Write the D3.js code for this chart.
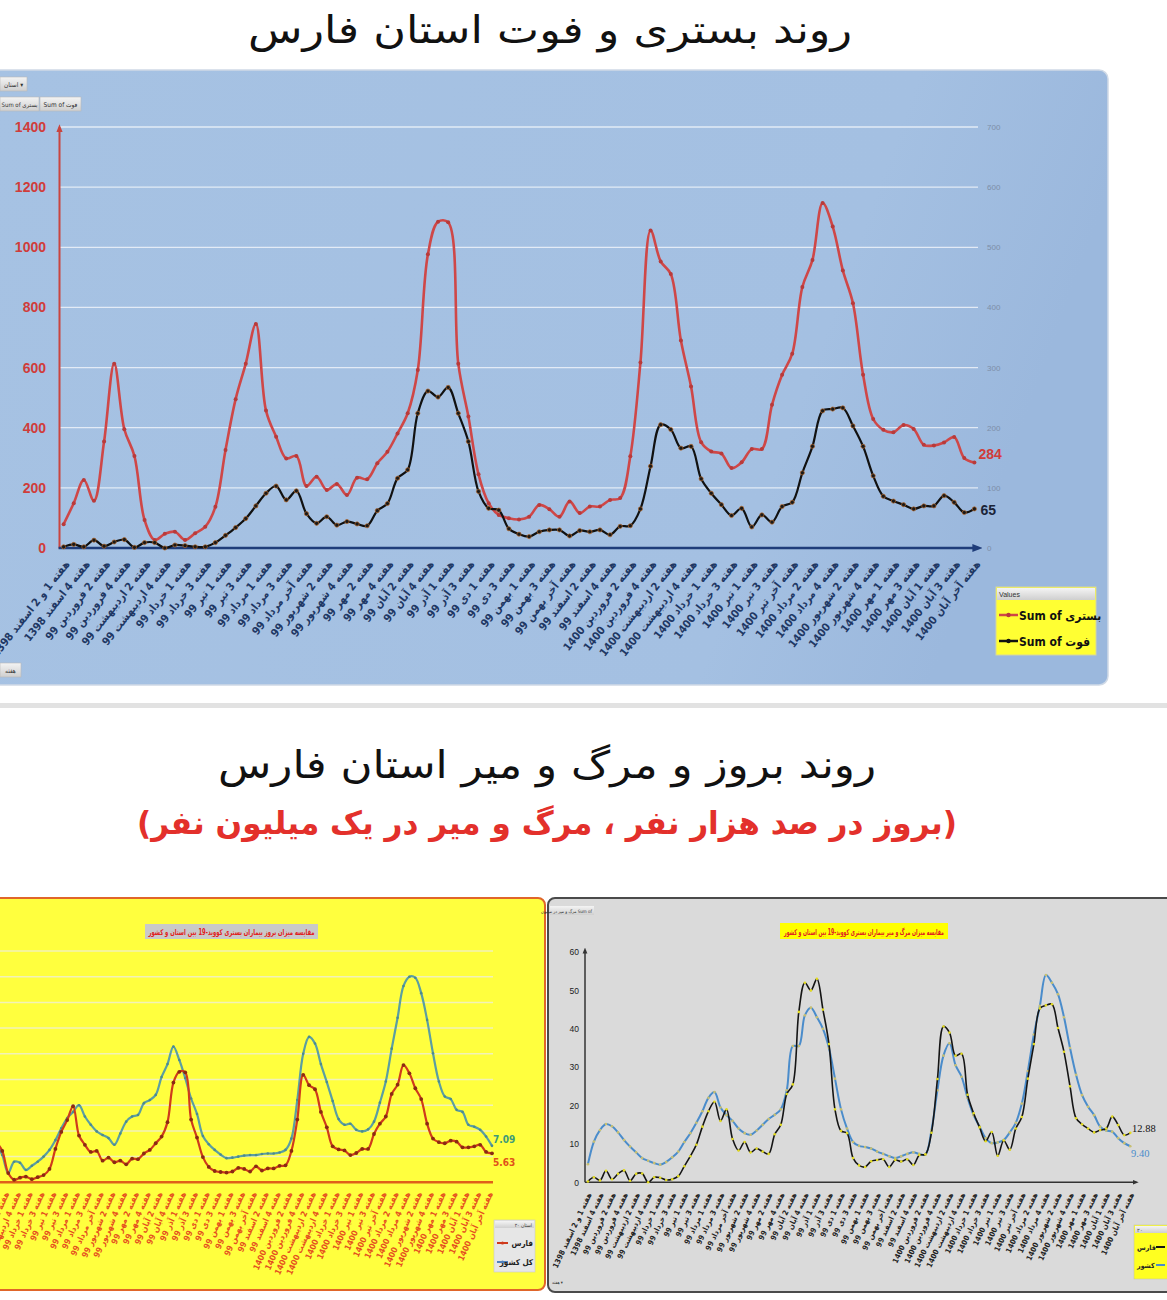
<!DOCTYPE html>
<html><head><meta charset="utf-8">
<script src="https://cdn.jsdelivr.net/npm/d3@7"></script>
<style>
body{margin:0;background:#fff;}
svg{display:block;}
</style></head><body>
<svg id="c" width="1167" height="1300"></svg>
<script>
// ---------------- DATA ----------------
const tickLabels = [
"هفته 1 و 2 اسفند 1398","هفته 4 اسفند 1398","هفته 2 فروردین 99","هفته 4 فروردین 99",
"هفته 2 اردیبهشت 99","هفته 4 اردیبهشت 99","هفته 1 خرداد 99","هفته 3 خرداد 99",
"هفته 1 تیر 99","هفته 3 تیر 99","هفته 1 مرداد 99","هفته 3 مرداد 99","هفته آخر مرداد 99",
"هفته 2 شهریور 99","هفته 4 شهریور 99","هفته 2 مهر 99","هفته 4 مهر 99","هفته 2 آبان 99",
"هفته 4 آبان 99","هفته 1 آذر 99","هفته 3 آذر 99","هفته 1 دی 99","هفته 3 دی 99",
"هفته 1 بهمن 99","هفته 3 بهمن 99","هفته آخر بهمن 99","هفته 2 اسفند 99","هفته 4 اسفند 99",
"هفته 2 فروردین 1400","هفته 4 فروردین 1400","هفته 2 اردیبهشت 1400","هفته 4 اردیبهشت 1400",
"هفته 1 خرداد 1400","هفته 3 خرداد 1400","هفته 1 تیر 1400","هفته 3 تیر 1400","هفته آخر تیر 1400",
"هفته 2 مرداد 1400","هفته 4 مرداد 1400","هفته 2 شهریور 1400","هفته 4 شهریور 1400",
"هفته 1 مهر 1400","هفته 3 مهر 1400","هفته 1 آبان 1400","هفته 3 آبان 1400","هفته آخر آبان 1400"
];

// Top chart: weekly hospitalized (left axis) and deaths (right axis), Fars
const hospitalized = [
79,149,226,157,354,613,395,306,93,27,
47,54,27,49,71,137,326,495,613,745,
457,370,298,306,206,237,193,213,176,234,
229,282,320,381,448,592,977,1085,1083,613,
437,245,149,110,99,95,104,143,129,104,
155,116,138,138,160,166,305,617,1056,953,
911,690,537,352,321,314,266,285,329,329,
476,576,646,868,958,1147,1069,923,814,576,
429,393,385,409,396,343,341,351,369,299,284];
const deaths = [
2,6,2,13,3,10,14,1,9,9,
0,5,4,2,2,9,21,34,49,70,
91,103,80,95,57,41,52,38,44,40,
37,62,74,116,130,224,261,251,267,224,
177,94,66,63,32,23,19,27,30,30,
20,29,27,30,22,36,37,65,136,205,
197,166,169,115,91,72,54,66,35,55,
43,69,76,125,169,228,231,233,203,169,
120,86,78,72,65,70,70,87,76,59,65];

// Bottom-left: incidence per 100k (visible part starts at week index 6)
const incStart = 6;
const incFars = [
7.8,6.1,1.8,0.5,0.9,1.1,0.6,1.0,1.4,2.6,
6.5,9.8,12.1,14.8,9.1,7.3,5.9,6.1,4.2,4.8,
3.9,4.2,3.5,4.6,4.5,5.6,6.3,7.6,8.9,11.7,
19.4,21.5,21.4,12.2,8.7,4.9,3.0,2.2,2.0,1.9,
2.1,2.8,2.6,2.1,3.1,2.3,2.7,2.7,3.2,3.3,
6.1,12.2,20.9,18.9,18.1,13.7,10.7,7.0,6.4,6.2,
5.3,5.7,6.5,6.5,9.4,11.4,12.8,17.2,19.0,22.8,
21.2,18.3,16.2,11.4,8.5,7.8,7.6,8.1,7.9,6.8,
6.8,7.0,7.3,5.9,5.63];
const incCountry = [
7.5,5.3,1.8,4.0,3.8,2.4,3.2,4.0,5.0,6.3,
8.2,10.5,12.5,13.7,15.0,12.8,11.2,9.9,9.2,8.6,
7.3,9.5,11.8,12.8,13.1,15.4,16.0,17.0,20.5,23.0,
26.4,23.8,20.3,16.3,13.3,9.0,7.4,6.3,5.4,4.7,
4.8,5.0,5.2,5.3,5.3,5.5,5.6,5.6,5.8,6.3,
8.5,16.0,25.0,28.3,27.0,23.0,19.5,15.8,12.3,11.2,
11.4,10.2,9.9,10.3,11.8,15.5,19.6,26.0,32.0,38.2,
40.0,39.8,36.8,31.6,25.1,19.6,16.7,16.2,14.1,13.7,
11.2,10.8,10.2,8.9,7.09];

// Bottom-right: mortality per million
const mortFars = [
0.2,1.3,0.5,3.0,0.8,2.2,3.1,0.4,2.2,2.3,
0.0,1.3,1.2,0.6,0.8,1.6,4.2,6.8,9.8,14.5,
18.5,21.0,16.0,19.0,11.3,8.3,10.5,7.8,8.8,8.0,
7.4,12.5,15.0,23.0,25.5,44.4,52.0,50.0,53.0,45.0,
36.0,19.0,13.4,12.8,6.3,4.4,4.0,5.5,5.8,6.0,
4.0,5.8,5.4,6.0,4.5,7.1,7.3,12.9,26.9,40.6,
39.0,33.0,33.5,22.8,18.0,14.3,10.7,13.1,6.9,10.9,
8.5,14.0,17.0,27.0,36.0,45.3,46.1,46.4,40.2,34.0,
25.0,16.7,15.1,14.0,13.0,13.6,14.0,17.1,14.9,12.3,12.88];
const mortCountry = [
4.7,10.6,13.6,15.2,14.6,13.0,11.0,9.3,7.8,6.3,
5.6,5.0,4.6,5.3,6.5,8.0,10.5,12.8,15.5,18.5,
22.0,23.5,19.5,17.5,16.0,14.0,12.8,12.4,13.5,15.0,
16.5,17.6,19.0,24.0,35.5,35.5,43.5,45.5,43.0,40.0,
35.0,27.0,19.0,14.0,10.5,9.5,9.2,8.8,8.0,7.4,
6.8,6.3,6.8,7.4,7.8,7.4,7.2,13.5,24.0,33.0,
36.2,30.5,27.5,22.0,17.5,14.5,11.5,10.2,10.4,11.0,
13.0,15.5,20.5,29.0,38.5,46.0,54.0,52.0,49.0,43.0,
35.0,28.0,22.7,19.7,17.5,14.5,13.5,13.2,11.5,10.2,9.4];

const leftTicks = [0,200,400,600,800,1000,1200,1400];
const rightTicks = [0,100,200,300,400,500,600,700];
const incGrid = [5,10,15,20,25,30,35,40,45];
const mortTicks = [0,10,20,30,40,50,60];

// ---------------- DRAW ----------------
const FA = "'DejaVu Sans', sans-serif";
const FAC = "'DejaVu Sans Condensed','DejaVu Sans', sans-serif";
const LAT = "'Liberation Sans', Arial, sans-serif";
const svg = d3.select("#c");
const defs = svg.append("defs");
function arrow(id, color){
  defs.append("marker").attr("id",id).attr("viewBox","0 0 10 10").attr("refX",6).attr("refY",5)
    .attr("markerWidth",4).attr("markerHeight",4).attr("orient","auto")
    .append("path").attr("d","M0,1L10,5L0,9z").attr("fill",color);
}
arrow("arR","#c9453f"); arrow("arN","#1f3d7a"); arrow("arK","#333");
const gT = defs.append("linearGradient").attr("id","bgTop").attr("x1",0).attr("x2",1).attr("y1",0).attr("y2",0.2);
gT.append("stop").attr("offset","0").attr("stop-color","#a6c2e3");
gT.append("stop").attr("offset","0.8").attr("stop-color","#a4c0e2");
gT.append("stop").attr("offset","1").attr("stop-color","#9bb8dd");
const gB = defs.append("linearGradient").attr("id","btn").attr("x1",0).attr("x2",0).attr("y1",0).attr("y2",1);
gB.append("stop").attr("offset","0").attr("stop-color","#f4f4f4");
gB.append("stop").attr("offset","1").attr("stop-color","#cfcfcf");

// ===== TITLE 1 =====
svg.append("text").attr("x",550).attr("y",43).attr("text-anchor","middle").attr("direction","rtl")
  .attr("font-family",FA).attr("font-size",38).attr("fill","#111")
  .attr("textLength",604).attr("lengthAdjust","spacingAndGlyphs")
  .text("روند بستری و فوت استان فارس");

// ===== TOP PANEL =====
svg.append("rect").attr("x",-10).attr("y",70).attr("width",1118).attr("height",615).attr("rx",9)
  .attr("fill","url(#bgTop)").attr("stroke","#cfd9e6").attr("stroke-width",1.5);

const xT = d3.scaleLinear().domain([0,90]).range([63.6,974.4]);
const yL = d3.scaleLinear().domain([0,1400]).range([548,127]);
const yR = d3.scaleLinear().domain([0,700]).range([548,127]);

svg.append("g").selectAll("line").data(leftTicks.slice(1)).join("line")
  .attr("x1",60).attr("x2",978).attr("y1",d=>yL(d)).attr("y2",d=>yL(d))
  .attr("stroke","#eef3fa").attr("stroke-width",1.3).attr("opacity",0.85);

const axL = svg.append("g").attr("transform","translate(59,0)")
  .call(d3.axisLeft(yL).tickValues(leftTicks).tickFormat(d3.format("d")).tickSize(0).tickSizeOuter(0).tickPadding(13));
axL.select(".domain").attr("stroke","#c9453f").attr("stroke-width",2).attr("marker-end","url(#arR)");
axL.selectAll("text").attr("fill","#d03c3a").attr("font-family",LAT).attr("font-weight","bold").attr("font-size",14);

const axR = svg.append("g").attr("transform","translate(976,0)")
  .call(d3.axisRight(yR).tickValues(rightTicks).tickSize(0).tickSizeOuter(0).tickPadding(11));
axR.select(".domain").remove();
axR.selectAll("text").attr("fill","#7d8ea8").attr("font-family",LAT).attr("font-size",8);

const axB = svg.append("g").attr("transform","translate(0,548)")
  .call(d3.axisBottom(xT).tickValues(d3.range(0,91,2)).tickFormat(i=>tickLabels[i/2]).tickSize(0).tickSizeOuter(0));
axB.select(".domain").remove();
axB.selectAll("text").attr("y",0).attr("dy","0.35em").attr("text-anchor","end")
  .attr("transform","translate(3,14) rotate(-52)")
  .attr("fill","#1f3864").attr("font-family",FAC).attr("font-weight","bold").attr("font-size",11);
svg.append("line").attr("x1",xT.range()[0]-5).attr("x2",xT.range()[1]+4).attr("y1",yL(0)).attr("y2",yL(0))
  .attr("stroke","#1f3d7a").attr("stroke-width",2.5).attr("marker-end","url(#arN)");

const curve = d3.curveCatmullRom.alpha(0.5);
svg.append("path").attr("d",d3.line().x((d,i)=>xT(i)).y(d=>yL(d)).curve(curve)(hospitalized))
  .attr("fill","none").attr("stroke","#cf4747").attr("stroke-width",2.6);
svg.append("g").selectAll("circle").data(hospitalized).join("circle")
  .attr("cx",(d,i)=>xT(i)).attr("cy",d=>yL(d)).attr("r",2).attr("fill","#b83a3a");
svg.append("path").attr("d",d3.line().x((d,i)=>xT(i)).y(d=>yR(d)).curve(curve)(deaths))
  .attr("fill","none").attr("stroke","#111").attr("stroke-width",2.2);
svg.append("g").selectAll("circle").data(deaths).join("circle")
  .attr("cx",(d,i)=>xT(i)).attr("cy",d=>yR(d)).attr("r",2.1).attr("fill","#1a1a1a").attr("stroke","#b8692a").attr("stroke-width",0.7);

svg.append("text").attr("x",xT(90)+4).attr("y",yL(hospitalized[90])-4).text(hospitalized[90])
  .attr("fill","#d03c3a").attr("font-family",LAT).attr("font-weight","bold").attr("font-size",14);
svg.append("text").attr("x",xT(90)+6).attr("y",yR(deaths[90])+6).text(deaths[90])
  .attr("fill","#1a2438").attr("font-family",LAT).attr("font-weight","bold").attr("font-size",14);

// small field buttons
function btn(x,y,w,h,t,fs){
  svg.append("rect").attr("x",x).attr("y",y).attr("width",w).attr("height",h).attr("fill","url(#btn)").attr("stroke","#b8b8b8").attr("stroke-width",0.6);
  svg.append("text").attr("x",x+w/2).attr("y",y+h/2+2.5).attr("text-anchor","middle").attr("font-family",FAC).attr("font-size",fs||7).attr("fill","#333").text(t);
}
btn(0,77,27,14,"استان ▾",6.5);
btn(0,97,39,14,"Sum of بستری",6);
btn(40,97,41,14,"Sum of فوت",6.5);
btn(0,663,21,14,"هفته",6.5);

// legend top
svg.append("rect").attr("x",996).attr("y",587).attr("width",100).attr("height",68).attr("fill","#ffff33").attr("stroke","#d6d6a0");
svg.append("rect").attr("x",997).attr("y",588).attr("width",98).attr("height",12).attr("fill","url(#btn)");
svg.append("text").attr("x",999).attr("y",597).attr("font-family",LAT).attr("font-size",7).attr("fill","#333").text("Values");
[["Sum of بستری","#cf4747",615],["Sum of فوت","#111",641]].forEach(([t,c,y])=>{
  svg.append("line").attr("x1",999).attr("x2",1018).attr("y1",y).attr("y2",y).attr("stroke",c).attr("stroke-width",2.5);
  svg.append("circle").attr("cx",1008.5).attr("cy",y).attr("r",2.2).attr("fill",c==="#111"?"#111":"#b83a3a");
  svg.append("text").attr("x",1019).attr("y",y+4.5).attr("font-family",FAC).attr("font-weight","bold").attr("font-size",12).attr("fill","#111").text(t);
});

// ===== separator & titles 2 =====
svg.append("rect").attr("x",0).attr("y",703).attr("width",1167).attr("height",5).attr("fill","#e2e2e2");
svg.append("text").attr("x",547).attr("y",778).attr("text-anchor","middle").attr("direction","rtl")
  .attr("font-family",FA).attr("font-size",38).attr("fill","#111")
  .attr("textLength",658).attr("lengthAdjust","spacingAndGlyphs")
  .text("روند بروز و مرگ و میر استان فارس");
svg.append("text").attr("x",547).attr("y",834).attr("text-anchor","middle").attr("direction","rtl")
  .attr("font-family",FA).attr("font-weight","bold").attr("font-size",32).attr("fill","#e3302b")
  .attr("textLength",820).attr("lengthAdjust","spacingAndGlyphs")
  .text("(بروز در صد هزار نفر ، مرگ و میر در یک میلیون نفر)");

// ===== BOTTOM-LEFT (incidence) =====
svg.append("rect").attr("x",-10).attr("y",898).attr("width",555).attr("height",392).attr("rx",7)
  .attr("fill","#ffff3e").attr("stroke","#e0662a").attr("stroke-width",2);
svg.append("rect").attr("x",145).attr("y",924).attr("width",173).attr("height",15).attr("fill","#c9c9c9");
svg.append("text").attr("x",231.5).attr("y",935).attr("text-anchor","middle").attr("direction","rtl")
  .attr("font-family",FAC).attr("font-weight","bold").attr("font-size",8).attr("fill","#e02020")
  .attr("textLength",166).attr("lengthAdjust","spacingAndGlyphs")
  .text("مقایسه میزان بروز بیماران بستری کووید-19 بین استان و کشور");

const xBL = d3.scaleLinear().domain([0,90]).range([-39,492]);
const yBL = d3.scaleLinear().domain([0,45]).range([1182.3,951]);
svg.append("g").selectAll("line").data(incGrid).join("line")
  .attr("x1",0).attr("x2",493).attr("y1",d=>yBL(d)).attr("y2",d=>yBL(d))
  .attr("stroke","#f2f2b8").attr("stroke-width",1.5);
svg.append("line").attr("x1",0).attr("x2",493).attr("y1",yBL(0)).attr("y2",yBL(0)).attr("stroke","#e0601a").attr("stroke-width",2.5);

const axBL = svg.append("g").attr("transform",`translate(0,${yBL(0)})`)
  .call(d3.axisBottom(xBL).tickValues(d3.range(incStart+2,91,2)).tickFormat(i=>tickLabels[i/2]).tickSize(0).tickSizeOuter(0));
axBL.select(".domain").remove();
axBL.selectAll("text").attr("y",0).attr("dy","0.35em").attr("text-anchor","end")
  .attr("transform","translate(-2,10) rotate(-66)")
  .attr("fill","#e5501e").attr("font-family",FAC).attr("font-weight","bold").attr("font-size",8.4);

const lineBL = d3.line().x((d,i)=>xBL(i+incStart)).y(d=>yBL(d)).curve(curve);
svg.append("path").attr("d",lineBL(incCountry)).attr("fill","none").attr("stroke","#5b9ea2").attr("stroke-width",2.2);
svg.append("g").selectAll("circle").data(incCountry).join("circle")
  .attr("cx",(d,i)=>xBL(i+incStart)).attr("cy",d=>yBL(d)).attr("r",1.3).attr("fill","#4c8a8e");
svg.append("path").attr("d",lineBL(incFars)).attr("fill","none").attr("stroke","#cf3a1c").attr("stroke-width",2.2);
svg.append("g").selectAll("circle").data(incFars).join("circle")
  .attr("cx",(d,i)=>xBL(i+incStart)).attr("cy",d=>yBL(d)).attr("r",1.9).attr("fill","#8a2a12");
svg.append("text").attr("x",493).attr("y",yBL(incCountry[incCountry.length-1])-3).text(incCountry[incCountry.length-1].toFixed(2))
  .attr("fill","#3d9a78").attr("font-family",FAC).attr("font-weight","bold").attr("font-size",10);
svg.append("text").attr("x",493).attr("y",yBL(incFars[incFars.length-1])+13).text(incFars[incFars.length-1].toFixed(2))
  .attr("fill","#e0501a").attr("font-family",FAC).attr("font-weight","bold").attr("font-size",10);
// legend BL
svg.append("rect").attr("x",494).attr("y",1220).attr("width",41).attr("height",52).attr("fill","#e6e6e6").attr("stroke","#c8c8c8").attr("stroke-width",0.6);
svg.append("rect").attr("x",495).attr("y",1221).attr("width",39).attr("height",7).attr("fill","url(#btn)");
svg.append("text").attr("x",532).attr("y",1227).attr("text-anchor","end").attr("font-family",FAC).attr("font-size",5).attr("fill","#333").text("استان ۲۰");
[["فارس","#cf3a1c",1243],["کل کشور","#4f81bd",1262]].forEach(([t,c,y])=>{
  svg.append("line").attr("x1",497).attr("x2",508).attr("y1",y).attr("y2",y).attr("stroke",c).attr("stroke-width",2);
  svg.append("circle").attr("cx",502.5).attr("cy",y).attr("r",1.6).attr("fill",c);
  svg.append("text").attr("x",533).attr("y",y+3).attr("text-anchor","end").attr("font-family",FAC).attr("font-weight","bold").attr("font-size",8).attr("fill","#222").text(t);
});

// ===== BOTTOM-RIGHT (mortality) =====
svg.append("rect").attr("x",548).attr("y",898).attr("width",640).attr("height",394).attr("rx",7)
  .attr("fill","#dadada").attr("stroke","#4a4a4a").attr("stroke-width",2);
svg.append("rect").attr("x",550).attr("y",906).attr("width",44).attr("height",9).attr("fill","url(#btn)");
svg.append("text").attr("x",592).attr("y",913).attr("text-anchor","end").attr("font-family",FAC).attr("font-size",4.5).attr("fill","#333").text("مرگ و میر در میلیون Sum of");
svg.append("text").attr("x",552).attr("y",1284).attr("font-family",FAC).attr("font-size",4.5).attr("fill","#333").text("هفته ▾");
svg.append("rect").attr("x",780).attr("y",923).attr("width",168).attr("height",16).attr("fill","#ffff00");
svg.append("text").attr("x",864).attr("y",935).attr("text-anchor","middle").attr("direction","rtl")
  .attr("font-family",FAC).attr("font-weight","bold").attr("font-size",8).attr("fill","#e02020")
  .attr("textLength",160).attr("lengthAdjust","spacingAndGlyphs")
  .text("مقایسه میزان مرگ و میر بیماران بستری کووید-19 بین استان و کشور");

const xBR = d3.scaleLinear().domain([0,90]).range([587.9,1130.3]);
const yBR = d3.scaleLinear().domain([0,60]).range([1182.3,952]);
const axBRy = svg.append("g").attr("transform","translate(585,0)")
  .call(d3.axisLeft(yBR).tickValues(mortTicks).tickSize(0).tickSizeOuter(0).tickPadding(6));
axBRy.select(".domain").remove();
axBRy.selectAll("text").attr("fill","#222").attr("font-family",LAT).attr("font-size",8.5);
svg.append("line").attr("x1",585).attr("x2",585).attr("y1",yBR(0)).attr("y2",yBR(60)-2).attr("stroke","#333").attr("stroke-width",1.5).attr("marker-end","url(#arK)");
svg.append("line").attr("x1",585).attr("x2",xBR(90)+6).attr("y1",yBR(0)).attr("y2",yBR(0)).attr("stroke","#333").attr("stroke-width",1.5).attr("marker-end","url(#arK)");

const axBRx = svg.append("g").attr("transform",`translate(0,${yBR(0)})`)
  .call(d3.axisBottom(xBR).tickValues(d3.range(0,91,2)).tickFormat(i=>tickLabels[i/2]).tickSize(0).tickSizeOuter(0));
axBRx.select(".domain").remove();
axBRx.selectAll("text").attr("y",0).attr("dy","0.35em").attr("text-anchor","end")
  .attr("transform","translate(1,11) rotate(-65)")
  .attr("fill","#222").attr("font-family",FAC).attr("font-weight","bold").attr("font-size",7.6);

const lineBR = d3.line().x((d,i)=>xBR(i)).y(d=>yBR(d)).curve(curve);
svg.append("path").attr("d",lineBR(mortCountry)).attr("fill","none").attr("stroke","#4a8ccb").attr("stroke-width",2);
svg.append("g").selectAll("circle").data(mortCountry).join("circle")
  .attr("cx",(d,i)=>xBR(i)).attr("cy",d=>yBR(d)).attr("r",1.3).attr("fill","#c9c070");
svg.append("path").attr("d",lineBR(mortFars)).attr("fill","none").attr("stroke","#151515").attr("stroke-width",1.6);
svg.append("g").selectAll("circle").data(mortFars).join("circle")
  .attr("cx",(d,i)=>xBR(i)).attr("cy",d=>yBR(d)).attr("r",1.3).attr("fill","#e4dc20");
svg.append("text").attr("x",1132).attr("y",yBR(mortFars[90])-1).text(mortFars[90].toFixed(2))
  .attr("fill","#111").attr("font-family","'Liberation Serif',serif").attr("font-size",10.5);
svg.append("text").attr("x",1131).attr("y",yBR(mortCountry[90])+11).text(mortCountry[90].toFixed(2))
  .attr("fill","#4a8ccb").attr("font-family","'Liberation Serif',serif").attr("font-size",10.5);
// legend BR
svg.append("rect").attr("x",1134).attr("y",1225).attr("width",40).attr("height",54).attr("fill","#ffff20").attr("stroke","#c8c8a0").attr("stroke-width",0.6);
svg.append("rect").attr("x",1135).attr("y",1226).attr("width",38).attr("height",7).attr("fill","url(#btn)");
svg.append("text").attr("x",1137).attr("y",1232).attr("font-family",LAT).attr("font-size",5).attr("fill","#333").text("۲۰");
[["فارس","#151515",1247],["کشور","#4a8ccb",1265]].forEach(([t,c,y])=>{
  svg.append("text").attr("x",1137).attr("y",y+3).attr("font-family",FAC).attr("font-weight","bold").attr("font-size",7).attr("fill","#222").attr("direction","rtl").attr("text-anchor","end").text(t);
  svg.append("line").attr("x1",1156).attr("x2",1165).attr("y1",y).attr("y2",y).attr("stroke",c).attr("stroke-width",2);
});
</script>
</body></html>
